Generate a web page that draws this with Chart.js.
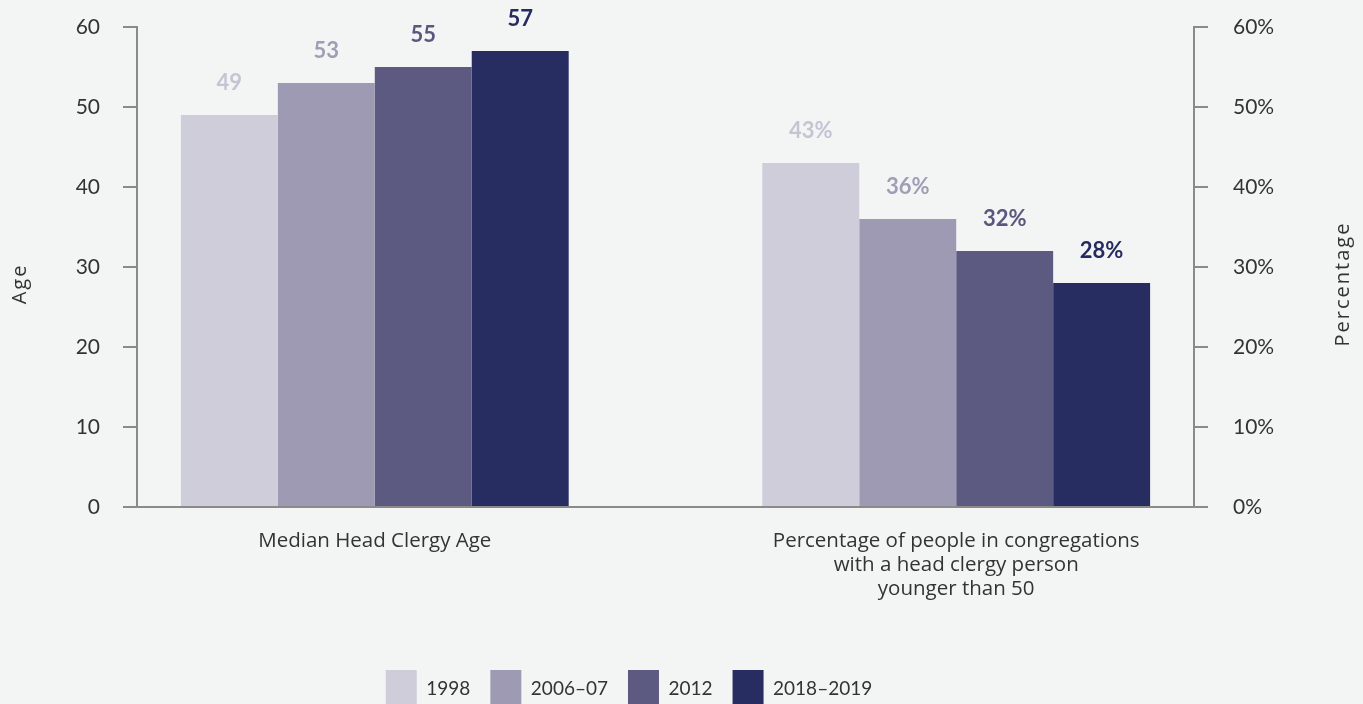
<!DOCTYPE html>
<html>
<head>
<meta charset="utf-8">
<script src="https://cdn.jsdelivr.net/npm/chart.js@4/dist/chart.umd.min.js"></script>
<style>
  html, body { margin: 0; padding: 0; background: #f3f5f4; overflow: hidden; }
  #wrap { width: 1363px; height: 720px; position: relative; }
</style>
</head>
<body>
<div id="wrap"><canvas id="clergy"></canvas></div>
<script>
// chart data
const groups = [
    'Median Head Clergy Age',
    ['Percentage of people in congregations', 'with a head clergy person', 'younger than 50']
]
const years = ['1998', '2006–07', '2012', '2018–2019']
const medianAge = [49, 53, 55, 57]          // left axis, years of age
const pctYounger = [43, 36, 32, 28]         // right axis, percent
const ageTicks = [0, 10, 20, 30, 40, 50, 60]

const barColors = ['#cfcdda', '#9e9ab3', '#5c5a80', '#282d61']
const labelColors = ['#c6c4d4', '#a19db6', '#59577f', '#262b5f']

const NUMFONT = 'Lato, "Open Sans", sans-serif'
const TXTFONT = '"Open Sans", Lato, sans-serif'
const AXIS = '#8a8a8a'
const TEXT = '#333333'

/* fills the page colour behind the chart */
const bgPlugin = {
    id: 'bg',
    beforeDraw: (chart) => {
        const c = chart.ctx
        c.save()
        c.fillStyle = '#f3f5f4'
        c.fillRect(0, 0, chart.width, chart.height)
        c.restore()
    }
}

/* value labels above each bar */
const valuePlugin = {
    id: 'values',
    afterDatasetsDraw: (chart) => {
        const c = chart.ctx
        c.save()
        c.font = 'bold 22px ' + NUMFONT
        c.textAlign = 'center'
        c.textBaseline = 'middle'
        chart.data.datasets.forEach((ds, i) => {
            chart.getDatasetMeta(i).data.forEach((bar, j) => {
                const v = ds.data[j].y
                c.fillStyle = labelColors[i]
                c.fillText(j == 0 ? String(v) : v + '%', bar.x, bar.y - 32)
            })
        })
        c.restore()
    }
}

/* both axis titles read bottom-to-top */
const titlePlugin = {
    id: 'titles',
    afterDraw: (chart) => {
        const c = chart.ctx
        const a = chart.chartArea
        const mid = (a.top + a.bottom) / 2 + 17
        const put = (txt, x) => {
            c.save()
            c.translate(x, mid)
            c.rotate(-Math.PI / 2)
            c.font = '20px ' + TXTFONT
            c.letterSpacing = '2px'
            c.fillStyle = TEXT
            c.textAlign = 'center'
            c.textBaseline = 'middle'
            c.fillText(txt, 0, 0)
            c.restore()
        }
        put('Age', a.left - 117)
        put('Percentage', a.right + 149)
    }
}

const datasets = years.map((yr, i) => ({
    label: yr,
    backgroundColor: barColors[i],
    borderWidth: 0,
    data: [{ x: 1, y: medianAge[i] }, { x: 2, y: pctYounger[i] }]
}))

// fixed widths for the side axes; drop the extra top/bottom room v4 adds for tick padding
const fixWidth = (w) => (s) => {
    s.width = w
    s.paddingTop = 0
    s.paddingBottom = 0
}

const yCommon = {
    min: ageTicks[0],
    max: ageTicks[ageTicks.length - 1],
    grid: { drawOnChartArea: false, drawTicks: true, tickLength: 14, color: AXIS, lineWidth: 2 },
    border: { display: true, color: AXIS, width: 2 }
}

new Chart('clergy', {
    type: 'bar',
    data: { datasets: datasets },
    plugins: [bgPlugin, valuePlugin, titlePlugin],
    options: {
        responsive: true,
        maintainAspectRatio: false,
        animation: false,
        layout: { padding: { top: 27, left: -26, right: 79, bottom: 2 } },
        datasets: { bar: { categoryPercentage: 0.667, barPercentage: 1 } },
        plugins: {
            tooltip: { enabled: false },
            legend: {
                position: 'bottom',
                labels: {
                    boxWidth: 31,
                    boxHeight: 38,
                    padding: 20,
                    color: TEXT,
                    font: { family: NUMFONT, size: 19 }
                }
            }
        },
        scales: {
            x: {
                type: 'linear',
                offset: false,
                bounds: 'data',
                min: 0.591,
                max: 2.409,
                afterBuildTicks: (s) => { s.ticks = [{ value: 1 }, { value: 2 }] },
                afterFit: (s) => { s.height = 143 },
                grid: { display: false, drawTicks: false, offset: false },
                border: { display: true, color: AXIS, width: 2 },
                ticks: {
                    autoSkip: false,
                    maxRotation: 0,
                    padding: 22,
                    color: TEXT,
                    font: { family: TXTFONT, size: 20.5, lineHeight: 1.17 },
                    callback: (v) => groups[v - 1]
                }
            },
            y: {
                ...yCommon,
                position: 'left',
                afterFit: fixWidth(163),
                ticks: {
                    stepSize: 10,
                    padding: 23,
                    color: TEXT,
                    font: { family: NUMFONT, size: 21 }
                }
            },
            y1: {
                ...yCommon,
                position: 'right',
                afterFit: fixWidth(90),
                ticks: {
                    stepSize: 10,
                    padding: 25,
                    color: TEXT,
                    font: { family: NUMFONT, size: 21 },
                    callback: (v) => v + '%'
                }
            }
        }
    }
})
</script>
</body>
</html>
